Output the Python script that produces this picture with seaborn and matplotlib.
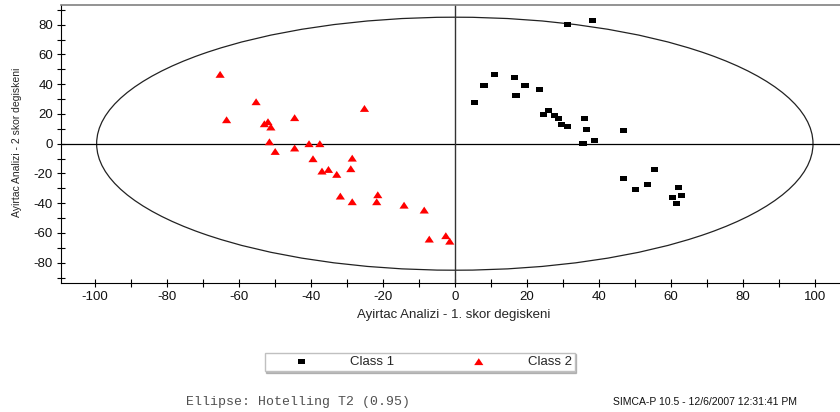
import seaborn as sns
import matplotlib.pyplot as plt
import pandas as pd
from matplotlib.patches import Ellipse
from matplotlib.ticker import MultipleLocator

# Score values
class1_x = [31.2, 38.3, 5.4, 8.1, 11.1, 16.7, 17.0, 19.5, 23.4, 24.7, 26.1, 27.7, 28.8, 29.7,
            31.3, 36.1, 36.7, 35.6, 38.7, 46.9, 46.9, 50.1, 53.4, 55.5, 62.1, 60.5, 63.0, 61.5]
class1_y = [80.1, 82.8, 27.7, 39.1, 46.5, 44.5, 32.4, 39.1, 36.4, 19.6, 22.5, 19.0, 16.9, 12.9,
            11.6, 16.9, 9.5, 0.1, 2.2, 8.9, -23.4, -30.8, -27.4, -17.3, -29.4, -36.2, -34.6, -40.2]

class2_x = [-65.2, -63.4, -55.2, -52.9, -51.9, -51.1, -51.5, -49.9, -44.5, -44.5, -40.5, -37.5,
            -39.4, -36.9, -35.1, -32.8, -28.5, -28.9, -25.1, -31.8, -28.5, -21.4, -21.7, -14.1,
            -8.5, -7.1, -2.5, -1.4]
class2_y = [46.6, 16.1, 28.2, 13.4, 14.8, 11.2, 1.3, -5.2, 17.5, -2.9, 0.0, 0.0,
            -10.1, -18.4, -17.3, -20.6, -9.7, -16.8, 23.7, -35.2, -39.0, -34.3, -39.0, -41.3,
            -44.6, -64.1, -61.8, -65.5]

# Hotelling T2 (0.95) ellipse semi-axes
ell_a = 99.5
ell_b = 85.0

df1 = pd.DataFrame({"t1": class1_x, "t2": class1_y})
df2 = pd.DataFrame({"t1": class2_x, "t2": class2_y})

sns.set_style("ticks")
plt.rcParams['font.family'] = ['Liberation Sans', 'DejaVu Sans']
plt.rcParams['axes.unicode_minus'] = False

fig = plt.figure(figsize=(8.4, 4.12), dpi=100)
ax = fig.add_axes([61 / 840, 1 - 283 / 412, 1 - 61 / 840, 278 / 412])

# flat rectangle and triangle markers like the SIMCA output
rect = [(-1.4, -1), (1.4, -1), (1.4, 1), (-1.4, 1)]
tri = [(0, 0.75), (-1, -0.75), (1, -0.75)]

sns.scatterplot(data=df1, x="t1", y="t2", marker=rect, s=26, color="black",
                edgecolor="none", linewidth=0, label="Class 1", legend=False, ax=ax, zorder=3)
sns.scatterplot(data=df2, x="t1", y="t2", marker=tri, s=44, color="#ff0000",
                edgecolor="none", linewidth=0, label="Class 2", legend=False, ax=ax, zorder=3)

ax.add_patch(Ellipse((0, 0), 2 * ell_a, 2 * ell_b, fill=False, edgecolor="#222222", lw=0.9))
ax.axhline(0, color="black", lw=0.9, zorder=1)
ax.axvline(0, color="#333333", lw=1.0, zorder=1)

ax.set_xlim(-109.4, 107)
ax.set_ylim(-93.6, 93.2)
ax.xaxis.set_major_locator(MultipleLocator(20))
ax.xaxis.set_minor_locator(MultipleLocator(10))
ax.yaxis.set_major_locator(MultipleLocator(20))
ax.yaxis.set_minor_locator(MultipleLocator(10))
ax.set_yticks(range(-80, 81, 20))
ax.tick_params(which="both", direction="inout", length=5.5, width=0.8, color="black",
               labelsize=9.5, pad=3, labelcolor="#111111")

ax.spines["right"].set_visible(False)
ax.spines["top"].set_color("#808080")
ax.spines["top"].set_linewidth(1.2)
ax.spines["left"].set_color("black")
ax.spines["bottom"].set_color("black")

ax.set_xlabel("Ayirtac Analizi - 1. skor degiskeni", fontsize=9.5)
ax.xaxis.label.set_va("center")
ax.xaxis.set_label_coords((454 - 61) / 779, (283 - 315) / 278)
ax.set_ylabel("Ayirtac Analizi - 2 skor degiskeni", fontsize=7.5)
ax.yaxis.label.set_va("center")
ax.yaxis.set_label_coords((17 - 61) / 779, (283 - 142) / 278)

handles, labels = ax.get_legend_handles_labels()
fig.legend(handles, labels, loc="center", bbox_to_anchor=(0.5, 1 - 362 / 412), ncol=2,
           fontsize=9.5, frameon=True, fancybox=False, edgecolor="#c0c0c0",
           borderpad=0.25, handlelength=5.0, handletextpad=1.2, columnspacing=3.9,
           shadow={"ox": 1, "oy": -1, "shade": 0.5})

fig.text(298 / 840, 1 - 402 / 412, "Ellipse: Hotelling T2 (0.95)", family="Liberation Mono",
         fontsize=9.5, color="#505050", ha="center", va="center")
fig.text(705 / 840, 1 - 402 / 412, "SIMCA-P 10.5 - 12/6/2007 12:31:41 PM", fontsize=7.5,
         color="#111111", ha="center", va="center")

plt.savefig("out.png", dpi=100)
